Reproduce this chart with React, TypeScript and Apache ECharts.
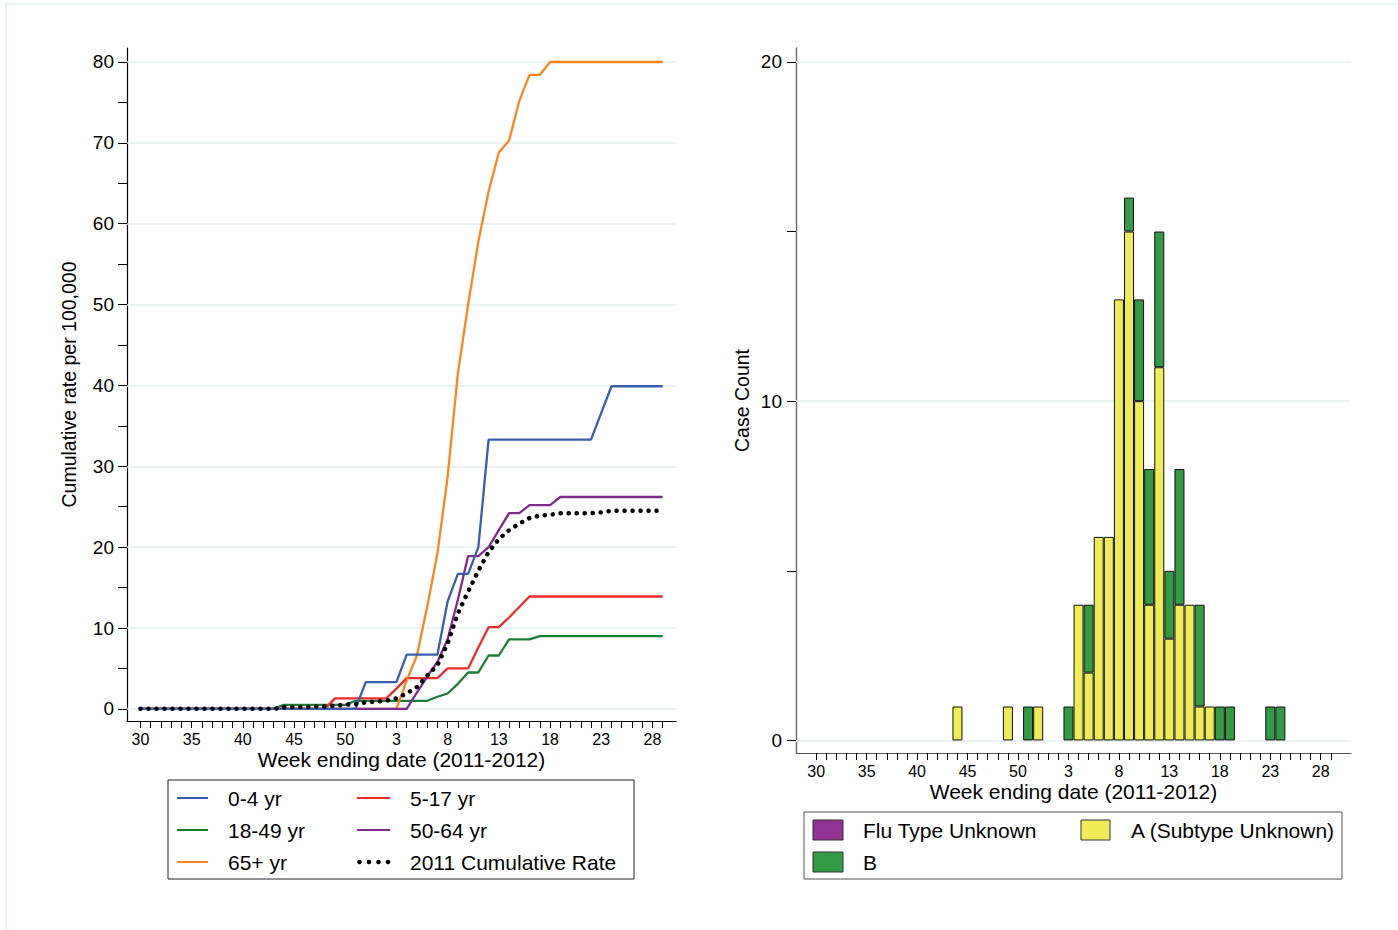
import React, { useEffect, useRef } from "react";
import * as echarts from "echarts";

const FONT = "'Liberation Sans', Arial, Helvetica, sans-serif";

// Week-of-year categories (2011 wk30 .. 2012 wk29)
const weekLabels = [30,31,32,33,34,35,36,37,38,39,40,41,42,43,44,45,46,47,48,49,50,51,52,1,2,3,4,5,6,7,8,9,10,11,12,13,14,15,16,17,18,19,20,21,22,23,24,25,26,27,28,29];
const xTickIdx = weekLabels.map((_, i) => i);
const xLabelIdx = [0, 5, 10, 15, 20, 25, 30, 35, 40, 45, 50];

// Left panel: cumulative rate per 100,000
const rate04 = [0,0,0,0,0,0,0,0,0,0,0,0,0,0,0,0,0,0,0,0,0,0,3.3,3.3,3.3,3.3,6.7,6.7,6.7,6.7,13.3,16.7,16.7,20.0,33.3,33.3,33.3,33.3,33.3,33.3,33.3,33.3,33.3,33.3,33.3,36.6,39.9,39.9,39.9,39.9,39.9,39.9];
const rate517 = [0,0,0,0,0,0,0,0,0,0,0,0,0,0,0,0,0,0,0,1.3,1.3,1.3,1.3,1.3,1.3,2.5,3.8,3.8,3.8,3.8,5.0,5.0,5.0,7.6,10.1,10.1,11.3,12.6,13.9,13.9,13.9,13.9,13.9,13.9,13.9,13.9,13.9,13.9,13.9,13.9,13.9,13.9];
const rate1849 = [0,0,0,0,0,0,0,0,0,0,0,0,0,0,0.5,0.5,0.5,0.5,0.5,0.5,0.5,1.0,1.0,1.0,1.0,1.0,1.0,1.0,1.0,1.5,1.9,3.1,4.5,4.5,6.6,6.6,8.6,8.6,8.6,9.0,9.0,9.0,9.0,9.0,9.0,9.0,9.0,9.0,9.0,9.0,9.0,9.0];
const rate5064 = [0,0,0,0,0,0,0,0,0,0,0,0,0,0,0,0,0,0,0,0,0,0,0,0,0,0,0,2.0,4.0,5.8,8.6,13.5,18.9,18.9,20.0,22.1,24.2,24.2,25.2,25.2,25.2,26.2,26.2,26.2,26.2,26.2,26.2,26.2,26.2,26.2,26.2,26.2];
const rate65 = [0,0,0,0,0,0,0,0,0,0,0,0,0,0,0,0,0,0,0,0,0,0,0,0,0,0,3.5,6.6,12.6,19.2,28.7,41.5,50.0,57.8,64.0,68.8,70.3,75.2,78.4,78.4,80,80,80,80,80,80,80,80,80,80,80,80];
const cum2011 = [0,0,0,0,0,0,0,0,0,0,0,0,0,0,0.2,0.2,0.2,0.3,0.3,0.4,0.5,0.6,0.8,0.9,1.0,1.3,1.9,2.7,4.1,5.4,8.1,11.8,14.5,17.1,19.4,21.0,22.1,22.9,23.6,23.9,24.0,24.2,24.2,24.2,24.2,24.3,24.5,24.5,24.5,24.5,24.5,24.5];
const leftYTicks = [0,5,10,15,20,25,30,35,40,45,50,55,60,65,70,75,80];
const leftYLabels = [0,10,20,30,40,50,60,70,80];

// Right panel: case counts
const caseUnknown = [0,0,0,0,0,0,0,0,0,0,0,0,0,0,0,0,0,0,0,0,0,0,0,0,0,0,0,0,0,0,0,0,0,0,0,0,0,0,0,0,0,0,0,0,0,0,0,0,0,0,0,0];
const caseA = [0,0,0,0,0,0,0,0,0,0,0,0,0,0,1,0,0,0,0,1,0,0,1,0,0,0,4,2,6,6,13,15,10,4,11,3,4,4,1,1,0,0,0,0,0,0,0,0,0,0,0,0];
const caseB = [0,0,0,0,0,0,0,0,0,0,0,0,0,0,0,0,0,0,0,0,0,1,0,0,0,1,0,2,0,0,0,1,3,4,4,2,4,0,3,0,1,1,0,0,0,1,1,0,0,0,0,0];
const rightYTicks = [0,5,10,15,20];
const rightYLabels = [0,10,20];

const PAD = 2; // empty category slots each side of the bar panel's week axis
const rightCats = [
  ...Array.from({ length: PAD }, (_, k) => `pre${k}`),
  ...weekLabels.map(String),
  ...Array.from({ length: PAD }, (_, k) => `post${k}`),
];

const COL = {
  blue: "#3a5dae",
  red: "#ee2a2a",
  green: "#1b7d3a",
  purple: "#7f2b8c",
  orange: "#f7861f",
  black: "#000000",
  barYellow: "#efec58",
  barGreen: "#339a45",
  barPurple: "#913395",
  grid: "#e6eff1",
};

const toPairs = (arr: number[]) => arr.map((v, i) => [i, v]);
const padBars = (arr: number[]) => [
  ...Array(PAD).fill(null),
  ...arr.map((v) => (v > 0 ? v : null)),
  ...Array(PAD).fill(null),
];

export default function App() {
  const ref = useRef<HTMLDivElement>(null);

  useEffect(() => {
    if (!ref.current) return;
    const chart = echarts.init(ref.current, undefined, { renderer: "svg" });

    const lineSeries = (name: string, data: number[], color: string, extra: any = {}) => ({
      type: "line",
      name,
      xAxisIndex: 0,
      yAxisIndex: 0,
      data: toPairs(data),
      symbol: "none",
      lineStyle: { color, width: 2.3 },
      itemStyle: { color },
      z: 3,
      ...extra,
    });

    const txt = (x: number, y: number, text: string) => ({
      type: "text",
      x,
      y,
      style: { text, fontSize: 21, fontFamily: FONT, fill: "#000", verticalAlign: "middle" },
    });

    const option: any = {
      animation: false,
      backgroundColor: "#ffffff",
      grid: [
        { left: 127, top: 48, width: 549, height: 673 },
        { left: 796, top: 48, width: 555, height: 705 },
      ],
      xAxis: [
        {
          type: "value",
          gridIndex: 0,
          min: -1.31,
          max: 52.3,
          axisLine: { show: true, onZero: false, lineStyle: { color: "#000", width: 1.2 } },
          axisTick: { show: true, length: 7, customValues: xTickIdx, lineStyle: { color: "#000", width: 1 } },
          axisLabel: {
            customValues: xLabelIdx,
            formatter: (v: number) => String(weekLabels[Math.round(v)] ?? ""),
            fontSize: 16,
            color: "#000",
            fontFamily: FONT,
            margin: 10,
          },
          splitLine: { show: false },
          name: "Week ending date (2011-2012)",
          nameLocation: "middle",
          nameGap: 28,
          nameMoveOverlap: false,
          nameTextStyle: { fontSize: 21, color: "#000", fontFamily: FONT },
        },
        {
          type: "category",
          gridIndex: 1,
          data: rightCats,
          boundaryGap: false,
          axisLine: { show: true, onZero: false, lineStyle: { color: "#555", width: 1.2 } },
          axisTick: {
            show: true,
            length: 7,
            interval: (index: number) => index >= PAD && index < PAD + weekLabels.length,
            lineStyle: { color: "#000", width: 1 },
          },
          axisLabel: {
            interval: (index: number) =>
              index >= PAD && index < PAD + weekLabels.length && (index - PAD) % 5 === 0,
            fontSize: 16,
            color: "#000",
            fontFamily: FONT,
            margin: 10,
          },
          splitLine: { show: false },
          name: "Week ending date (2011-2012)",
          nameLocation: "middle",
          nameGap: 28,
          nameMoveOverlap: false,
          nameTextStyle: { fontSize: 21, color: "#000", fontFamily: FONT },
        },
      ],
      yAxis: [
        {
          type: "value",
          gridIndex: 0,
          min: -1.5,
          max: 81.73,
          axisLine: { show: true, onZero: false, lineStyle: { color: "#000", width: 1.2 } },
          axisTick: { show: true, length: 9, customValues: leftYTicks, lineStyle: { color: "#000" } },
          axisLabel: { customValues: leftYLabels, fontSize: 19, color: "#000", margin: 13, fontFamily: FONT },
          splitLine: { show: false },
          name: "Cumulative rate per 100,000",
          nameLocation: "middle",
          nameGap: 48,
          nameTextStyle: { fontSize: 19.5, color: "#000", fontFamily: FONT },
        },
        {
          type: "value",
          gridIndex: 1,
          min: -0.37,
          max: 20.41,
          axisLine: { show: true, onZero: false, lineStyle: { color: "#666", width: 1.4 } },
          axisTick: { show: true, length: 9, customValues: rightYTicks, lineStyle: { color: "#000" } },
          axisLabel: { customValues: rightYLabels, fontSize: 19, color: "#000", margin: 14, fontFamily: FONT },
          splitLine: { show: false },
          name: "Case Count",
          nameLocation: "middle",
          nameGap: 44,
          nameTextStyle: { fontSize: 19.5, color: "#000", fontFamily: FONT },
        },
      ],
      series: [
        {
          type: "line",
          name: "gridLeft",
          xAxisIndex: 0,
          yAxisIndex: 0,
          data: [],
          silent: true,
          markLine: {
            silent: true,
            symbol: "none",
            z: 1,
            label: { show: false },
            lineStyle: { color: COL.grid, width: 1.5, type: "solid" },
            data: leftYLabels.map((v) => ({ yAxis: v })),
          },
        },
        {
          type: "line",
          name: "gridRight",
          xAxisIndex: 1,
          yAxisIndex: 1,
          data: [],
          silent: true,
          markLine: {
            silent: true,
            symbol: "none",
            z: 1,
            label: { show: false },
            lineStyle: { color: COL.grid, width: 1.5, type: "solid" },
            data: rightYLabels.map((v) => ({ yAxis: v })),
          },
        },
        lineSeries("18-49 yr", rate1849, COL.green),
        lineSeries("5-17 yr", rate517, COL.red),
        lineSeries("65+ yr", rate65, COL.orange),
        lineSeries("50-64 yr", rate5064, COL.purple),
        lineSeries("0-4 yr", rate04, COL.blue),
        lineSeries("2011 Cumulative Rate", cum2011, COL.black, {
          lineStyle: { color: COL.black, width: 4.5, type: [0.1, 7.9], cap: "round" },
          z: 4,
        }),
        {
          type: "bar",
          name: "A (Subtype Unknown)",
          xAxisIndex: 1,
          yAxisIndex: 1,
          stack: "cases",
          barWidth: 10,
          data: padBars(caseA),
          itemStyle: { color: COL.barYellow, borderColor: "#111", borderWidth: 1 },
          z: 3,
        },
        {
          type: "bar",
          name: "B",
          xAxisIndex: 1,
          yAxisIndex: 1,
          stack: "cases",
          barWidth: 10,
          data: padBars(caseB),
          itemStyle: { color: COL.barGreen, borderColor: "#111", borderWidth: 1 },
          z: 3,
        },
        {
          type: "bar",
          name: "Flu Type Unknown",
          xAxisIndex: 1,
          yAxisIndex: 1,
          stack: "cases",
          barWidth: 10,
          data: padBars(caseUnknown),
          itemStyle: { color: COL.barPurple, borderColor: "#111", borderWidth: 1 },
          z: 3,
        },
      ],
      graphic: {
        elements: [
          {
            type: "rect",
            z: -10,
            silent: true,
            shape: { x: 6, y: 4, width: 1500, height: 1000 },
            style: { fill: "none", stroke: "#e3edef", lineWidth: 1.5 },
          },
          // Left legend
          { type: "rect", silent: true, shape: { x: 168, y: 780, width: 466, height: 99 }, style: { fill: "#fff", stroke: "#222", lineWidth: 1 } },
          { type: "line", silent: true, shape: { x1: 177, y1: 798, x2: 208, y2: 798 }, style: { stroke: COL.blue, lineWidth: 2 } },
          txt(228, 798, "0-4 yr"),
          { type: "line", silent: true, shape: { x1: 357, y1: 798, x2: 390, y2: 798 }, style: { stroke: COL.red, lineWidth: 2 } },
          txt(410, 798, "5-17 yr"),
          { type: "line", silent: true, shape: { x1: 177, y1: 830, x2: 208, y2: 830 }, style: { stroke: COL.green, lineWidth: 2 } },
          txt(228, 830, "18-49 yr"),
          { type: "line", silent: true, shape: { x1: 357, y1: 830, x2: 390, y2: 830 }, style: { stroke: COL.purple, lineWidth: 2 } },
          txt(410, 830, "50-64 yr"),
          { type: "line", silent: true, shape: { x1: 177, y1: 862, x2: 208, y2: 862 }, style: { stroke: COL.orange, lineWidth: 2 } },
          txt(228, 862, "65+ yr"),
          { type: "circle", silent: true, shape: { cx: 359.5, cy: 862, r: 2.3 }, style: { fill: "#000" } },
          { type: "circle", silent: true, shape: { cx: 369, cy: 862, r: 2.3 }, style: { fill: "#000" } },
          { type: "circle", silent: true, shape: { cx: 378.5, cy: 862, r: 2.3 }, style: { fill: "#000" } },
          { type: "circle", silent: true, shape: { cx: 388, cy: 862, r: 2.3 }, style: { fill: "#000" } },
          txt(410, 862, "2011 Cumulative Rate"),
          // Right legend
          { type: "rect", silent: true, shape: { x: 804, y: 812, width: 538, height: 67 }, style: { fill: "#fff", stroke: "#555", lineWidth: 1 } },
          { type: "rect", silent: true, shape: { x: 813, y: 820, width: 30, height: 20 }, style: { fill: COL.barPurple, stroke: "#333", lineWidth: 1 } },
          txt(863, 830, "Flu Type Unknown"),
          { type: "rect", silent: true, shape: { x: 1081, y: 820, width: 29, height: 20 }, style: { fill: COL.barYellow, stroke: "#333", lineWidth: 1 } },
          txt(1131, 830, "A (Subtype Unknown)"),
          { type: "rect", silent: true, shape: { x: 813, y: 852, width: 30, height: 20 }, style: { fill: COL.barGreen, stroke: "#333", lineWidth: 1 } },
          txt(863, 862, "B"),
        ],
      },
    };

    chart.setOption(option);
    return () => chart.dispose();
  }, []);

  return (
    <div
      ref={ref}
      style={{ position: "absolute", left: 0, top: 0, width: 1398, height: 930, background: "#fff" }}
    />
  );
}
